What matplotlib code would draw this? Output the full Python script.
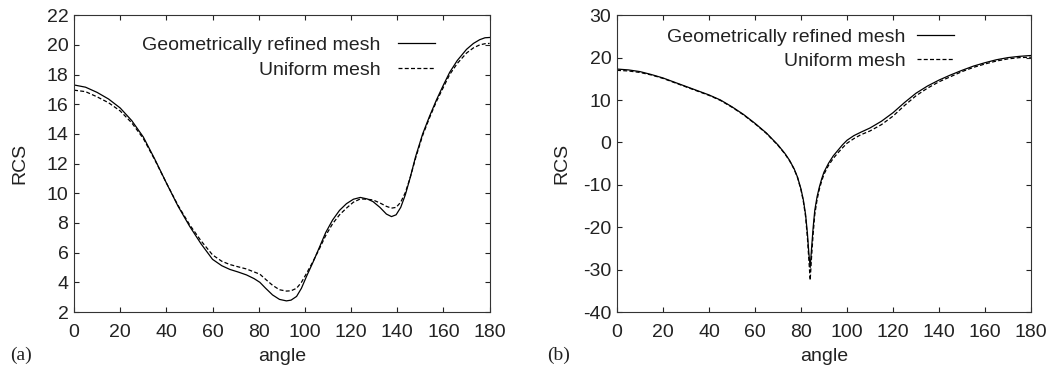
import matplotlib.pyplot as plt

plt.rcParams['font.family'] = ['Liberation Sans', 'DejaVu Sans']
plt.rcParams['axes.unicode_minus'] = False

# panel (a): RCS vs angle
angle_a = [0, 5, 10, 15, 20, 25, 30, 35, 40, 45, 50, 55, 60, 64, 67.5, 71, 74.7, 78, 80.5, 83, 86, 89,
           92, 94, 96.4, 98.5, 100.7, 103.5, 106.4, 109, 112, 115, 118, 121, 124, 127, 129.5, 132.5,
           135.3, 137.5, 139.5, 141.5, 143.5, 145.5, 148, 151, 154, 157, 160, 162.7, 166, 170, 173,
           175.7, 178, 180]
refined_a = [17.3, 17.15, 16.8, 16.35, 15.75, 14.9, 13.8, 12.3, 10.7, 9.15, 7.8, 6.6, 5.55, 5.12,
             4.87, 4.7, 4.5, 4.25, 4.0, 3.6, 3.15, 2.85, 2.75, 2.8, 3.05, 3.6, 4.4, 5.35, 6.4, 7.35,
             8.2, 8.85, 9.3, 9.6, 9.72, 9.62, 9.44, 9.05, 8.6, 8.43, 8.55, 9.05, 9.9, 11.0, 12.5,
             14.0, 15.2, 16.3, 17.3, 18.15, 18.95, 19.7, 20.1, 20.35, 20.48, 20.5]
uniform_a = [16.95, 16.85, 16.5, 16.1, 15.55, 14.75, 13.7, 12.25, 10.7, 9.2, 7.9, 6.8, 5.85, 5.42,
             5.2, 5.05, 4.9, 4.7, 4.55, 4.2, 3.8, 3.5, 3.41, 3.43, 3.6, 4.0, 4.6, 5.4, 6.3, 7.15,
             7.95, 8.55, 9.0, 9.4, 9.62, 9.6, 9.55, 9.35, 9.12, 9.0, 9.05, 9.4, 10.05, 11.0, 12.4,
             13.9, 15.1, 16.2, 17.15, 18.0, 18.75, 19.45, 19.8, 20.0, 20.08, 20.1]

# panel (b): RCS vs angle
angle_b = [0, 5, 10, 15, 20, 25, 30, 35, 40, 45, 50, 55, 60, 65, 70, 73, 75, 77, 78.5, 80, 81, 82, 82.8,
           83.4, 84, 84.6, 85.3, 86, 87, 88, 89, 90, 92, 94, 96, 98, 100, 103, 106, 110, 115, 120,
           125, 130, 135, 140, 145, 150, 155, 160, 165, 170, 175, 180]
refined_b = [17.3, 17.1, 16.7, 16.0, 15.2, 14.2, 13.2, 12.2, 11.2, 10.0, 8.4, 6.6, 4.5, 2.2, -0.6,
             -2.6, -4.2, -6.2, -8.2, -11.0, -13.5, -17.0, -21.5, -26.0, -29.5, -25.0, -20.0, -16.0,
             -12.8, -10.5, -8.6, -7.0, -4.9, -3.2, -1.9, -0.6, 0.5, 1.6, 2.4, 3.4, 5.0, 7.0,
             9.4, 11.6, 13.3, 14.7, 15.9, 17.0, 18.0, 18.8, 19.5, 20.0, 20.3, 20.5]
uniform_b = [17.0, 16.85, 16.5, 15.9, 15.1, 14.1, 13.1, 12.1, 11.1, 9.9, 8.3, 6.5, 4.4, 2.1, -0.7,
             -2.7, -4.3, -6.3, -8.3, -11.2, -13.8, -17.5, -22.5, -27.5, -32.5, -27.0, -21.5, -17.0,
             -13.5, -11.0, -9.1, -7.5, -5.4, -3.8, -2.5, -1.3, -0.2, 0.9, 1.8, 2.7, 4.2, 6.2,
             8.7, 11.0, 12.8, 14.3, 15.5, 16.7, 17.7, 18.5, 19.2, 19.7, 20.0, 20.1]

yticks_a = list(range(2, 23, 2))
yticks_b = list(range(-40, 31, 10))
xticks = list(range(0, 181, 20))

fig = plt.figure(figsize=(10.63, 3.71), dpi=100)
ax_a = fig.add_axes([0.0696, 0.159, 0.391, 0.800])
ax_b = fig.add_axes([0.5804, 0.159, 0.3895, 0.800])

# axes, x, refined, uniform, yticks, tag, legend anchor, text pad, row gap, ylabel pad, tag x
panels = [(ax_a, angle_a, refined_a, uniform_a, yticks_a, '(a)', (0.868, 0.929), 0.9, 0.4, 13, -0.154),
          (ax_b, angle_b, refined_b, uniform_b, yticks_b, '(b)', (0.814, 0.955), 0.6, 0.3, 9, -0.169)]

for ax, ang, ref, uni, yt, tag, anchor, tpad, rgap, ypad, tagx in panels:
    ax.plot(ang, ref, color='black', lw=0.9, label='Geometrically refined mesh')
    ax.plot(ang, uni, color='black', lw=0.9, linestyle=(0, (3.2, 1.8)), label='Uniform mesh')
    ax.set_xlim(0, 180)
    ax.set_ylim(yt[0], yt[-1])
    ax.set_xticks(xticks)
    ax.set_yticks(yt)
    ax.tick_params(direction='in', top=True, right=True, length=3.6, width=0.8,
                   labelsize=14, pad=4, colors='#222222')
    ax.tick_params(axis='x', pad=8.5)
    for s in ax.spines.values():
        s.set_linewidth(0.8)
        s.set_color('#333333')
    ax.set_xlabel('angle', fontsize=14, labelpad=5, color='#222222')
    ax.set_ylabel('RCS', fontsize=14, labelpad=ypad, color='#222222')
    leg = ax.legend(loc='upper right', frameon=False, markerfirst=False, fontsize=14,
                    handlelength=1.9, handletextpad=tpad, labelspacing=rgap,
                    borderaxespad=0, borderpad=0, bbox_to_anchor=anchor)
    for t in leg.get_texts():
        t.set_color('#222222')
    ax.text(tagx, -0.145, tag, transform=ax.transAxes, fontsize=14, color='#222222',
            family=['Liberation Serif', 'DejaVu Serif'], va='center', ha='left')

fig.savefig('out.png', dpi=100)
